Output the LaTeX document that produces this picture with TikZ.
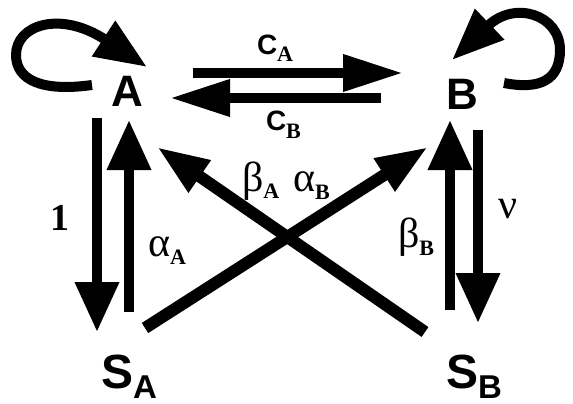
\documentclass[tikz,border=0pt]{standalone}
\usepackage{fontspec}
\setmainfont{Liberation Serif}
\setsansfont{Liberation Sans}
\usetikzlibrary{arrows.meta,calc}

\newcommand{\lowsub}[2]{\raisebox{-#1}{\rmfamily\bfseries\fontsize{22}{22}\selectfont #2}}

\begin{document}
\begin{tikzpicture}[
    x=1pt, y=-1pt,
    line width=10pt,
    state/.style={inner sep=0pt, font=\sffamily\bfseries\fontsize{44}{44}\selectfont},
    sink/.style={inner sep=0pt, font=\sffamily\bfseries\fontsize{48}{48}\selectfont},
    rate/.style={inner sep=0pt, anchor=base west, font=\fontsize{42}{42}\selectfont},
    crate/.style={inner sep=0pt, anchor=base west, font=\sffamily\bfseries\fontsize{28}{28}\selectfont},
    flow/.style={-{Triangle[length=50pt,width=42pt]}},
    swap/.style={-{Triangle[length=60pt,width=35pt]}},
    cross/.style={line width=12pt, -{Triangle[length=52pt,width=36pt]}},
    curl/.style={-{Triangle[length=52pt,width=40pt]}}
]
    \useasboundingbox (0,0) rectangle (573,404);

    \node[state] (A) at (127,91) {A};
    \node[state] (B) at (462,94) {B};
    \node[sink] (SA) at (129,377) {S\raisebox{-10pt}{\fontsize{33}{33}\selectfont A}};
    \node[sink] (SB) at (474,377) {S\raisebox{-10pt}{\fontsize{33}{33}\selectfont B}};

    % rates
    \node[crate] (cA) at (252,55) {C\lowsub{7pt}{A}};
    \node[crate] (cB) at (261,130) {C\lowsub{8pt}{B}};
    \node[rate, anchor=base, font=\fontsize{38}{38}\selectfont] (one) at (60,230) {\bfseries 1};
    \node[rate] (aA) at (143,256) {α\lowsub{8pt}{A}};
    \node[rate] (bA) at (237,191) {β\lowsub{7pt}{A}};
    \node[rate] (aB) at (288,191) {α\lowsub{8pt}{B}};
    \node[rate] (bB) at (393,247) {β\lowsub{8pt}{B}};
    \node[rate] (nu) at (493,218) {ν};

    % exchange between A and B
    \draw[swap] ($(A)+(66,-18)$) -- ($(B)+(-59,-21)$);
    \draw[swap] ($(B)+(-81,4)$) -- ($(A)+(43,7)$);

    % up and down to the sinks
    \draw[flow] ($(A)+(-30,27)$) -- ($(SA)+(-32,-45)$);
    \draw[flow] ($(SA)+(0,-65)$) -- ($(A)+(2,29)$);
    \draw[flow] ($(SB)+(-24,-67)$) -- ($(B)+(-12,26)$);
    \draw[flow] ($(B)+(16,36)$) -- ($(SB)+(4,-54)$);

    % crossing
    \draw[cross] ($(SA)+(16,-49)$) -- ($(B)+(-34,53)$);
    \draw[cross] ($(SB)+(-49,-45)$) -- ($(A)+(30,56)$);

    % self loops
    \draw[curl] ($(A)+(-35,-6)$) .. controls +(-50,7) and +(0,25) .. ($(A)+(-111,-36)$)
        .. controls +(0,-30) and +(-87,-57) .. ($(A)+(20,-24)$);
    \draw[curl] ($(B)+(42,-11)$) .. controls +(36,7) and +(0,30) .. ($(B)+(98,-44)$)
        .. controls +(0,-35) and +(63,-60) .. ($(B)+(-10,-34)$);
\end{tikzpicture}
\end{document}
